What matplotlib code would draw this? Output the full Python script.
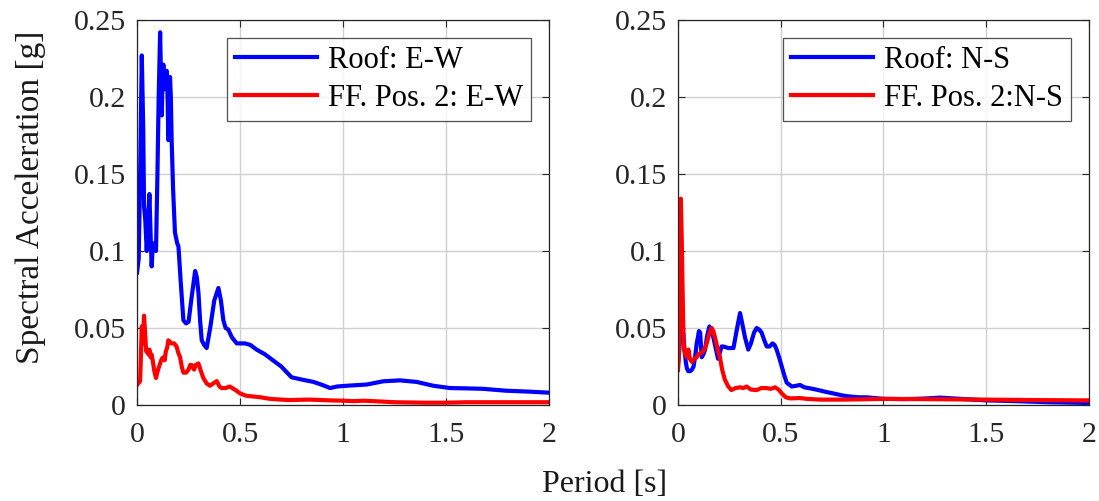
import matplotlib
matplotlib.use("Agg")
import matplotlib.pyplot as plt
import numpy as np

plt.rcParams['font.family'] = ['Liberation Serif', 'DejaVu Serif']
plt.rcParams['mathtext.fontset'] = 'stix'

# E-W direction: roof response
ew_roof_T = [0.000, 0.008, 0.015, 0.023, 0.030, 0.034, 0.040, 0.047, 0.054, 0.060,
             0.066, 0.071, 0.077, 0.082, 0.092, 0.099, 0.105, 0.112, 0.116, 0.120,
             0.124, 0.128, 0.132, 0.136, 0.140, 0.144, 0.148, 0.152, 0.156, 0.160,
             0.164, 0.168, 0.175, 0.184, 0.195, 0.201, 0.212, 0.225, 0.238, 0.250,
             0.265, 0.282, 0.290, 0.298, 0.306, 0.314, 0.326, 0.338, 0.355, 0.375,
             0.395, 0.407, 0.419, 0.430, 0.443, 0.460, 0.484, 0.524, 0.550, 0.580,
             0.620, 0.660, 0.700, 0.750, 0.800, 0.856, 0.900, 0.937, 0.970, 1.018,
             1.115, 1.195, 1.276, 1.357, 1.438, 1.520, 1.600, 1.680, 1.790, 1.900, 2.000]
ew_roof_Sa = [0.086, 0.095, 0.150, 0.227, 0.180, 0.129, 0.120, 0.100, 0.120, 0.137,
              0.110, 0.090, 0.105, 0.103, 0.100, 0.150, 0.200, 0.242, 0.215, 0.188,
              0.215, 0.221, 0.205, 0.216, 0.212, 0.217, 0.200, 0.172, 0.195, 0.213,
              0.200, 0.172, 0.140, 0.112, 0.105, 0.103, 0.080, 0.055, 0.053, 0.054,
              0.070, 0.087, 0.083, 0.073, 0.055, 0.042, 0.039, 0.037, 0.050, 0.068,
              0.076, 0.068, 0.055, 0.050, 0.049, 0.044, 0.040, 0.040, 0.039, 0.036,
              0.033, 0.029, 0.025, 0.018, 0.0165, 0.015, 0.013, 0.011, 0.012, 0.0125,
              0.0133, 0.0154, 0.016, 0.015, 0.0125, 0.011, 0.0108, 0.0105, 0.0093, 0.0087, 0.008]

# E-W direction: free field, position 2
ew_ff_T = [0.000, 0.015, 0.023, 0.028, 0.034, 0.040, 0.044, 0.050, 0.055, 0.060,
           0.066, 0.070, 0.076, 0.084, 0.092, 0.100, 0.112, 0.120, 0.128, 0.134,
           0.140, 0.146, 0.152, 0.160, 0.168, 0.180, 0.192, 0.200, 0.209, 0.217,
           0.225, 0.238, 0.250, 0.258, 0.265, 0.272, 0.277, 0.285, 0.298, 0.310,
           0.322, 0.338, 0.354, 0.370, 0.387, 0.400, 0.410, 0.430, 0.450, 0.475,
           0.500, 0.530, 0.565, 0.600, 0.646, 0.700, 0.743, 0.790, 0.840, 0.900,
           0.937, 1.000, 1.050, 1.100, 1.150, 1.250, 1.400, 1.500, 1.600, 1.750, 2.000]
ew_ff_Sa = [0.013, 0.0155, 0.051, 0.040, 0.058, 0.045, 0.035, 0.034, 0.033, 0.036,
            0.031, 0.033, 0.029, 0.022, 0.0175, 0.022, 0.027, 0.030, 0.031, 0.029,
            0.035, 0.037, 0.042, 0.041, 0.040, 0.040, 0.038, 0.034, 0.031, 0.025,
            0.021, 0.021, 0.023, 0.026, 0.026, 0.024, 0.023, 0.026, 0.027, 0.022,
            0.0175, 0.014, 0.0125, 0.014, 0.0155, 0.012, 0.011, 0.011, 0.012, 0.010,
            0.0075, 0.006, 0.0055, 0.005, 0.004, 0.0035, 0.0032, 0.0034, 0.0035, 0.0032,
            0.003, 0.0028, 0.0025, 0.0028, 0.0025, 0.0018, 0.0015, 0.0015, 0.0018, 0.0018, 0.0018]

# N-S direction: roof response
ns_roof_T = [0.000, 0.006, 0.011, 0.022, 0.027, 0.032, 0.038, 0.043, 0.050, 0.060,
             0.068, 0.076, 0.085, 0.091, 0.097, 0.102, 0.108, 0.112, 0.116, 0.124,
             0.132, 0.142, 0.153, 0.162, 0.172, 0.185, 0.195, 0.204, 0.212, 0.221,
             0.245, 0.270, 0.285, 0.302, 0.314, 0.326, 0.342, 0.355, 0.370, 0.383,
             0.395, 0.407, 0.420, 0.432, 0.446, 0.460, 0.470, 0.480, 0.492, 0.505,
             0.518, 0.529, 0.554, 0.575, 0.594, 0.615, 0.635, 0.659, 0.683, 0.720,
             0.756, 0.800, 0.837, 0.880, 0.918, 0.960, 1.000, 1.100, 1.200, 1.275,
             1.350, 1.500, 1.650, 1.800, 2.000]
ns_roof_Sa = [0.027, 0.035, 0.044, 0.052, 0.045, 0.036, 0.028, 0.024, 0.022, 0.022,
              0.023, 0.025, 0.033, 0.040, 0.044, 0.048, 0.047, 0.038, 0.031, 0.033,
              0.036, 0.045, 0.051, 0.048, 0.044, 0.036, 0.030, 0.034, 0.038, 0.038,
              0.037, 0.037, 0.048, 0.0597, 0.052, 0.044, 0.036, 0.040, 0.047, 0.050,
              0.049, 0.047, 0.042, 0.038, 0.038, 0.040, 0.039, 0.036, 0.031, 0.025,
              0.019, 0.0145, 0.012, 0.0125, 0.013, 0.0115, 0.011, 0.0104, 0.0097, 0.0085,
              0.0075, 0.0062, 0.0055, 0.005, 0.005, 0.0045, 0.004, 0.0038, 0.0042, 0.0048,
              0.0042, 0.003, 0.0025, 0.0018, 0.0013]

# N-S direction: free field, position 2
ns_ff_T = [0.000, 0.004, 0.008, 0.014, 0.018, 0.022, 0.026, 0.029, 0.036, 0.043,
           0.051, 0.058, 0.067, 0.080, 0.091, 0.100, 0.116, 0.128, 0.140, 0.152,
           0.164, 0.172, 0.180, 0.192, 0.204, 0.215, 0.228, 0.245, 0.260, 0.280,
           0.302, 0.318, 0.334, 0.355, 0.383, 0.405, 0.432, 0.452, 0.472, 0.490,
           0.505, 0.525, 0.545, 0.594, 0.626, 0.690, 0.720, 0.800, 0.900, 1.000,
           1.200, 1.500, 1.750, 2.000]
ns_ff_Sa = [0.0227, 0.030, 0.079, 0.134, 0.110, 0.079, 0.050, 0.036, 0.033, 0.031,
            0.036, 0.030, 0.028, 0.030, 0.031, 0.033, 0.034, 0.036, 0.040, 0.046,
            0.050, 0.048, 0.044, 0.037, 0.031, 0.023, 0.0165, 0.012, 0.0097, 0.011,
            0.0115, 0.011, 0.012, 0.010, 0.0097, 0.011, 0.011, 0.0105, 0.0115, 0.010,
            0.0075, 0.005, 0.0043, 0.0045, 0.004, 0.0035, 0.0035, 0.0035, 0.0037, 0.004,
            0.0038, 0.0035, 0.0032, 0.003]

panels = [
    (ew_roof_T, ew_roof_Sa, ew_ff_T, ew_ff_Sa, 'Roof: E-W', 'FF. Pos. 2: E-W'),
    (ns_roof_T, ns_roof_Sa, ns_ff_T, ns_ff_Sa, 'Roof: N-S', 'FF. Pos. 2:N-S'),
]

fig = plt.figure(figsize=(10.99, 5.01), dpi=100)
rects = [[0.1247, 0.1916, 0.3749, 0.7685],
         [0.6169, 0.1916, 0.3740, 0.7685]]

for rect, (T1, S1, T2, S2, lab1, lab2) in zip(rects, panels):
    ax = fig.add_axes(rect)
    ax.plot(T1, S1, color=(0, 0, 1), lw=3, label=lab1)
    ax.plot(T2, S2, color=(1, 0, 0), lw=3, label=lab2)
    ax.set_xlim(0, 2)
    ax.set_ylim(0, 0.25)
    ax.set_xticks([0, 0.5, 1, 1.5, 2])
    ax.set_xticklabels(['0', '0.5', '1', '1.5', '2'])
    ax.set_yticks([0, 0.05, 0.1, 0.15, 0.2, 0.25])
    ax.set_yticklabels(['0', '0.05', '0.1', '0.15', '0.2', '0.25'])
    ax.grid(True, color='#d0d0d0', lw=1)
    ax.set_axisbelow(True)
    ax.tick_params(direction='in', top=True, right=True, labelsize=21.5,
                   length=5, width=0.8, colors='#262626', labelcolor='#262626')
    ax.tick_params(axis='x', pad=12)
    ax.tick_params(axis='y', pad=8)
    for sp in ax.spines.values():
        sp.set_color('#262626')
        sp.set_linewidth(0.9)
    leg = ax.legend(loc='upper right', fontsize=22, frameon=True, fancybox=False,
                    edgecolor='#262626', handlelength=2.7, borderaxespad=0.6,
                    labelspacing=0.3, handletextpad=0.35, borderpad=0.25)
    leg.get_frame().set_linewidth(0.9)

fig.text(0.028, 0.607, 'Spectral Acceleration [g]', rotation=90,
         ha='center', va='center', fontsize=24, color='#1a1a1a')
fig.text(0.55, 0.032, 'Period [s]', ha='center', va='center',
         fontsize=23, color='#1a1a1a')

fig.savefig('out.png', dpi=100)
